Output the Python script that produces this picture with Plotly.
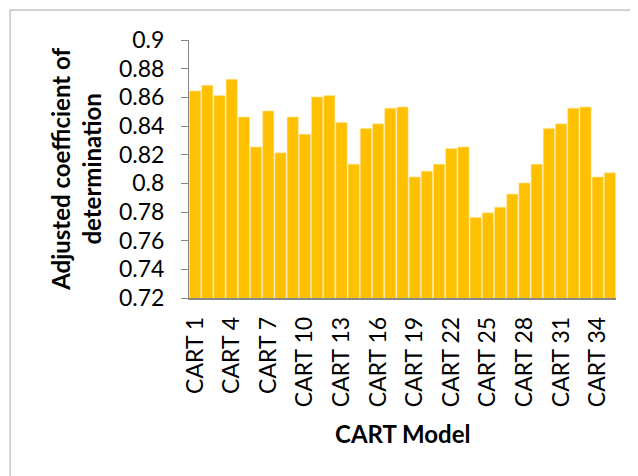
import plotly.graph_objects as go

# CART models 1..35 and adjusted R^2
models = ["CART " + str(i) for i in range(1, 36)]
adj_r2 = [0.8645, 0.8684, 0.8612, 0.8726, 0.8463, 0.8254, 0.8505, 0.8213, 0.8463, 0.8343,
          0.8603, 0.8612, 0.8424, 0.8134, 0.8382, 0.8415, 0.8524, 0.8533, 0.8045, 0.8085,
          0.8134, 0.8243, 0.8254, 0.7762, 0.7794, 0.7834, 0.7925, 0.8003, 0.8134, 0.8382,
          0.8415, 0.8524, 0.8533, 0.8045, 0.8073]
y_ticks = [0.72, 0.74, 0.76, 0.78, 0.8, 0.82, 0.84, 0.86, 0.88, 0.9]
y_ticktext = ["0.72", "0.74", "0.76", "0.78", "0.8", "0.82", "0.84", "0.86", "0.88", "0.9"]
x_ticks = models[::3]

FONT = "Lato"

fig = go.Figure()
fig.add_trace(go.Bar(
    x=models, y=adj_r2,
    marker=dict(color="#FFC000", line=dict(color="#FFE699", width=0.6)),
))

# page body has an 8px margin, so the figure is 630x468 placed at (8, 8)
fig.update_layout(
    width=630, height=468,
    margin=dict(l=181, r=22, t=32, b=178),
    plot_bgcolor="white", paper_bgcolor="white",
    font=dict(family=FONT, size=22, color="black"),
    bargap=0.08,
    showlegend=False,
)

fig.update_yaxes(
    range=[0.72, 0.9], tickvals=y_ticks, ticktext=y_ticktext,
    showgrid=False, showline=True, linecolor="#868686", linewidth=1,
    ticks="outside", ticklen=7, tickcolor="#868686",
    tickfont=dict(size=23), ticklabelstandoff=12, zeroline=False,
)
fig.update_xaxes(
    tickvals=x_ticks, ticktext=x_ticks, tickangle=-90,
    showgrid=False, showline=True, linecolor="#868686", linewidth=1.5,
    ticks="", tickfont=dict(size=23), ticklabelstandoff=8, range=[-0.5, 34.5],
)

# axis titles
fig.add_annotation(
    text="<b>Adjusted coefficient of<br>determination</b>", textangle=-90,
    xref="paper", yref="paper", x=-0.265, y=0.5, xanchor="center", yanchor="middle",
    showarrow=False, font=dict(size=24), align="center",
)
fig.add_annotation(
    text="<b>CART Model</b>",
    xref="paper", yref="paper", x=0.5, y=-0.525, xanchor="center", yanchor="middle",
    showarrow=False, font=dict(size=24),
)

# chart area border
fig.add_shape(type="rect", xref="paper", yref="paper",
              x0=-0.419, y0=-0.75, x1=1.1, y1=1.116,
              line=dict(color="#A6A6A6", width=1), layer="below")

fig.write_html("out.html")
